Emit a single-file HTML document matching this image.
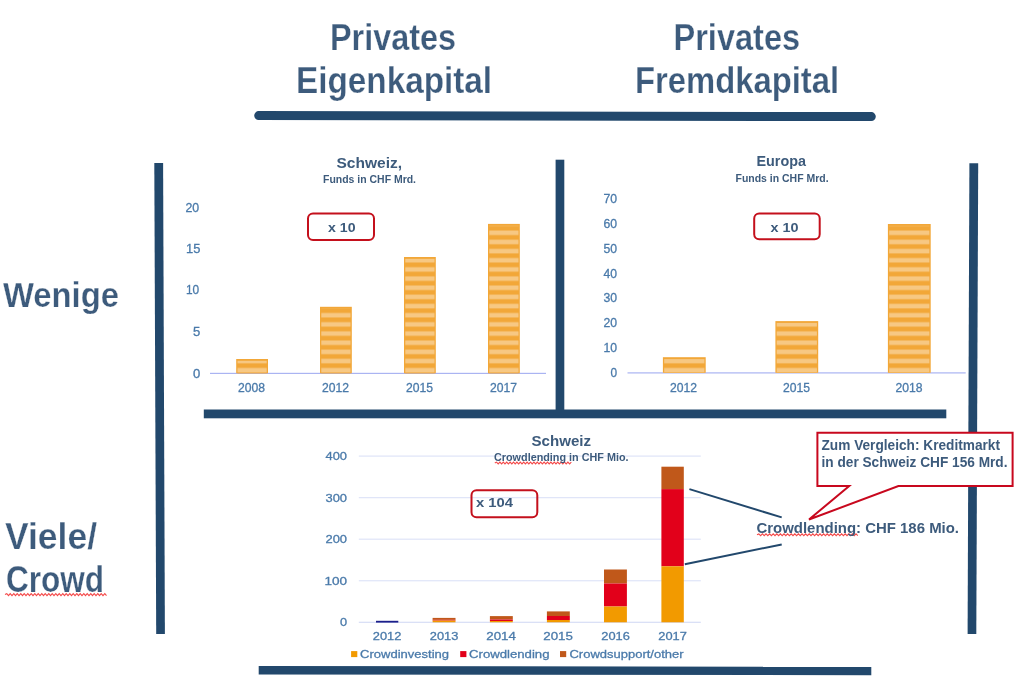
<!DOCTYPE html>
<html><head><meta charset="utf-8"><style>
html,body{margin:0;padding:0;background:#fff;width:1024px;height:681px;overflow:hidden}
svg{display:block;font-family:"Liberation Sans",sans-serif;will-change:transform}
</style></head><body>
<svg width="1024" height="681" viewBox="0 0 1024 681">
<defs>
<pattern id="stripe" patternUnits="userSpaceOnUse" x="0" y="-0.75" width="4" height="9.16">
<rect x="0" y="0" width="4" height="9.16" fill="#f2a738"/>
<rect x="0" y="2.3" width="4" height="4.5" fill="#f7c883"/>
</pattern>
</defs>
<rect width="1024" height="681" fill="#fff"/>
<line x1="258.7" y1="115.6" x2="871.3" y2="116.6" stroke="#22486c" stroke-width="9" stroke-linecap="round"/><polygon points="154.3,163 163.1,163 164.9,634 156.2,634" fill="#22486c"/><polygon points="969.4,163.2 978.2,163.2 976.3,634 967.6,634" fill="#22486c"/><rect x="555.6" y="159.7" width="8.7" height="255" fill="#22486c"/><rect x="203.8" y="409.5" width="742.5" height="8.8" fill="#22486c"/><polygon points="258.7,666 871.3,666.8 871.3,675.2 258.7,674.6" fill="#22486c"/><rect x="210" y="372.8" width="336" height="1.2" fill="#aab4f2"/><rect x="236.2" y="359" width="31.8" height="14.300000000000011" fill="#f2a738"/><rect x="237.5" y="360.8" width="29.2" height="12.50000000000001" fill="url(#stripe)"/><rect x="320" y="306.8" width="31.8" height="66.5" fill="#f2a738"/><rect x="321.3" y="308.6" width="29.2" height="64.7" fill="url(#stripe)"/><rect x="404" y="257" width="31.8" height="116.30000000000001" fill="#f2a738"/><rect x="405.3" y="258.8" width="29.2" height="114.50000000000001" fill="url(#stripe)"/><rect x="488" y="223.9" width="31.8" height="149.4" fill="#f2a738"/><rect x="489.3" y="225.70000000000002" width="29.2" height="147.6" fill="url(#stripe)"/><rect x="627.5" y="372.3" width="338.2" height="1.2" fill="#aab4f2"/><rect x="662.9" y="357.2" width="42.8" height="15.600000000000023" fill="#f2a738"/><rect x="664.1999999999999" y="359.0" width="40.199999999999996" height="13.800000000000022" fill="url(#stripe)"/><rect x="775.4" y="321.1" width="42.8" height="51.69999999999999" fill="#f2a738"/><rect x="776.6999999999999" y="322.90000000000003" width="40.199999999999996" height="49.89999999999999" fill="url(#stripe)"/><rect x="887.9" y="224" width="42.8" height="148.8" fill="#f2a738"/><rect x="889.1999999999999" y="225.8" width="40.199999999999996" height="147.0" fill="url(#stripe)"/><rect x="358.8" y="455.50" width="342" height="1.2" fill="#dfe4f8"/><rect x="358.8" y="497.05" width="342" height="1.2" fill="#dfe4f8"/><rect x="358.8" y="538.60" width="342" height="1.2" fill="#dfe4f8"/><rect x="358.8" y="580.15" width="342" height="1.2" fill="#dfe4f8"/><rect x="358.8" y="621.70" width="342" height="1.2" fill="#d6ddf6"/><rect x="376" y="620.8" width="22.3" height="1.8" fill="#1c1f8a"/><rect x="432.6" y="617.9" width="22.9" height="1.90" fill="#c0581a"/><rect x="432.6" y="619.8" width="22.9" height="0.80" fill="#e2001a"/><rect x="432.6" y="620.6" width="22.9" height="1.70" fill="#f29a00"/><rect x="489.9" y="616.1" width="22.9" height="3.40" fill="#c0581a"/><rect x="489.9" y="619.5" width="22.9" height="1.50" fill="#e2001a"/><rect x="489.9" y="621" width="22.9" height="1.30" fill="#f29a00"/><rect x="546.9" y="611.4" width="22.9" height="4.60" fill="#c0581a"/><rect x="546.9" y="616" width="22.9" height="4.00" fill="#e2001a"/><rect x="546.9" y="620" width="22.9" height="2.30" fill="#f29a00"/><rect x="604" y="569.5" width="22.9" height="14.00" fill="#c0581a"/><rect x="604" y="583.5" width="22.9" height="23.00" fill="#e2001a"/><rect x="604" y="606.5" width="22.9" height="15.80" fill="#f29a00"/><rect x="661.4" y="466.7" width="22.4" height="22.40" fill="#c0581a"/><rect x="661.4" y="489.1" width="22.4" height="77.20" fill="#e2001a"/><rect x="661.4" y="566.3" width="22.4" height="56.00" fill="#f29a00"/><rect x="351.1" y="651.1" width="6.2" height="6" fill="#f29a00"/><rect x="460.2" y="651.1" width="6.2" height="6" fill="#e2001a"/><rect x="560" y="651.1" width="6.2" height="6" fill="#c0581a"/><rect x="308" y="213.5" width="66" height="26.5" rx="5" fill="none" stroke="#c4101c" stroke-width="2"/><rect x="754.2" y="213.4" width="65.5" height="25.8" rx="5" fill="none" stroke="#c4101c" stroke-width="2"/><rect x="471.5" y="490.3" width="65.8" height="27" rx="5" fill="none" stroke="#c4101c" stroke-width="2"/><line x1="689.4" y1="489.1" x2="781.7" y2="517.4" stroke="#22486c" stroke-width="2"/><line x1="684.8" y1="564.2" x2="781.7" y2="544.4" stroke="#22486c" stroke-width="2"/><path d="M817.4 432.7 H1012.6 V486.1 H898.4 L809 519.5 L849.2 486.1 H817.4 Z" fill="#fff" stroke="#c8081e" stroke-width="2" stroke-linejoin="miter"/><path d="M5.0 594.6 L6.8 593.6 L8.5 595.6 L10.2 593.6 L12.0 595.6 L13.8 593.6 L15.5 595.6 L17.2 593.6 L19.0 595.6 L20.8 593.6 L22.5 595.6 L24.2 593.6 L26.0 595.6 L27.8 593.6 L29.5 595.6 L31.2 593.6 L33.0 595.6 L34.8 593.6 L36.5 595.6 L38.2 593.6 L40.0 595.6 L41.8 593.6 L43.5 595.6 L45.2 593.6 L47.0 595.6 L48.8 593.6 L50.5 595.6 L52.2 593.6 L54.0 595.6 L55.8 593.6 L57.5 595.6 L59.2 593.6 L61.0 595.6 L62.8 593.6 L64.5 595.6 L66.2 593.6 L68.0 595.6 L69.8 593.6 L71.5 595.6 L73.2 593.6 L75.0 595.6 L76.8 593.6 L78.5 595.6 L80.2 593.6 L82.0 595.6 L83.8 593.6 L85.5 595.6 L87.2 593.6 L89.0 595.6 L90.8 593.6 L92.5 595.6 L94.2 593.6 L96.0 595.6 L97.8 593.6 L99.5 595.6 L101.2 593.6 L103.0 595.6 L104.8 593.6 L106.5 595.6" fill="none" stroke="#f44a4a" stroke-width="1.1"/><path d="M494.8 463.0 L496.5 462.1 L498.2 463.9 L499.9 462.1 L501.6 463.9 L503.3 462.1 L505.0 463.9 L506.7 462.1 L508.4 463.9 L510.1 462.1 L511.8 463.9 L513.5 462.1 L515.2 463.9 L516.9 462.1 L518.6 463.9 L520.3 462.1 L522.0 463.9 L523.7 462.1 L525.4 463.9 L527.1 462.1 L528.8 463.9 L530.5 462.1 L532.2 463.9 L533.9 462.1 L535.6 463.9 L537.3 462.1 L539.0 463.9 L540.7 462.1 L542.4 463.9 L544.1 462.1 L545.8 463.9 L547.5 462.1 L549.2 463.9 L550.9 462.1 L552.6 463.9 L554.3 462.1 L556.0 463.9 L557.7 462.1 L559.4 463.9 L561.1 462.1 L562.8 463.9 L564.5 462.1 L566.2 463.9 L567.9 462.1 L569.6 463.9 L571.3 462.1" fill="none" stroke="#f44a4a" stroke-width="1.1"/><path d="M757.0 534.8 L758.8 533.9 L760.6 535.7 L762.4 533.9 L764.2 535.7 L766.0 533.9 L767.8 535.7 L769.6 533.9 L771.4 535.7 L773.2 533.9 L775.0 535.7 L776.8 533.9 L778.6 535.7 L780.4 533.9 L782.2 535.7 L784.0 533.9 L785.8 535.7 L787.6 533.9 L789.4 535.7 L791.2 533.9 L793.0 535.7 L794.8 533.9 L796.6 535.7 L798.4 533.9 L800.2 535.7 L802.0 533.9 L803.8 535.7 L805.6 533.9 L807.4 535.7 L809.2 533.9 L811.0 535.7 L812.8 533.9 L814.6 535.7 L816.4 533.9 L818.2 535.7 L820.0 533.9 L821.8 535.7 L823.6 533.9 L825.4 535.7 L827.2 533.9 L829.0 535.7 L830.8 533.9 L832.6 535.7 L834.4 533.9 L836.2 535.7 L838.0 533.9 L839.8 535.7 L841.6 533.9 L843.4 535.7 L845.2 533.9 L847.0 535.7 L848.8 533.9 L850.6 535.7 L852.4 533.9 L854.2 535.7 L856.0 533.9 L857.8 535.7" fill="none" stroke="#f44a4a" stroke-width="1.1"/>
<text x="330.00" y="50" font-weight="bold" font-size="36" fill="#3d5b7c" textLength="126.08" lengthAdjust="spacingAndGlyphs" stroke="#fff" stroke-width="0.25">Privates</text><text x="296.00" y="93" font-weight="bold" font-size="36" fill="#3d5b7c" textLength="196.09" lengthAdjust="spacingAndGlyphs" stroke="#fff" stroke-width="0.25">Eigenkapital</text><text x="673.50" y="49.5" font-weight="bold" font-size="36" fill="#3d5b7c" textLength="126.63" lengthAdjust="spacingAndGlyphs" stroke="#fff" stroke-width="0.25">Privates</text><text x="635.00" y="92.5" font-weight="bold" font-size="36" fill="#3d5b7c" textLength="204.09" lengthAdjust="spacingAndGlyphs" stroke="#fff" stroke-width="0.25">Fremdkapital</text><text x="3.00" y="306.8" font-weight="bold" font-size="35" fill="#3d5b7c" textLength="116.01" lengthAdjust="spacingAndGlyphs" stroke="#fff" stroke-width="0.25">Wenige</text><text x="5.00" y="548.9" font-weight="bold" font-size="36" fill="#3d5b7c" textLength="92.01" lengthAdjust="spacingAndGlyphs" stroke="#fff" stroke-width="0.25">Viele/</text><text x="6.00" y="591.5" font-weight="bold" font-size="36" fill="#3d5b7c" textLength="98.10" lengthAdjust="spacingAndGlyphs" stroke="#fff" stroke-width="0.25">Crowd</text><text x="336.50" y="167.5" font-weight="bold" font-size="15" fill="#3d5b7c" textLength="65.57" lengthAdjust="spacingAndGlyphs">Schweiz,</text><text x="323.00" y="183" font-weight="bold" font-size="11.6" fill="#3d5b7c" textLength="93.03" lengthAdjust="spacingAndGlyphs">Funds in CHF Mrd.</text><text x="328.00" y="232" font-weight="bold" font-size="13.5" fill="#3d5b7c" textLength="27.52" lengthAdjust="spacingAndGlyphs">x 10</text><text x="756.50" y="166.4" font-weight="bold" font-size="15" fill="#3d5b7c" textLength="49.51" lengthAdjust="spacingAndGlyphs">Europa</text><text x="735.50" y="182" font-weight="bold" font-size="11.6" fill="#3d5b7c" textLength="93.04" lengthAdjust="spacingAndGlyphs">Funds in CHF Mrd.</text><text x="770.50" y="231.8" font-weight="bold" font-size="13.5" fill="#3d5b7c" textLength="28.05" lengthAdjust="spacingAndGlyphs">x 10</text><text x="531.50" y="445.8" font-weight="bold" font-size="14.8" fill="#3d5b7c" textLength="59.55" lengthAdjust="spacingAndGlyphs">Schweiz</text><text x="494.00" y="460.9" font-weight="bold" font-size="10.9" fill="#3d5b7c" textLength="134.52" lengthAdjust="spacingAndGlyphs">Crowdlending in CHF Mio.</text><text x="476.00" y="506.9" font-weight="bold" font-size="13.5" fill="#3d5b7c" textLength="37.04" lengthAdjust="spacingAndGlyphs">x 104</text><text x="756.50" y="532.9" font-weight="bold" font-size="15.4" fill="#3d5b7c" textLength="202.51" lengthAdjust="spacingAndGlyphs">Crowdlending: CHF 186 Mio.</text><text x="821.50" y="449.5" font-weight="bold" font-size="14.2" fill="#3d5b7c" textLength="178.50" lengthAdjust="spacingAndGlyphs">Zum Vergleich: Kreditmarkt</text><text x="821.50" y="467" font-weight="bold" font-size="14.2" fill="#3d5b7c" textLength="186.02" lengthAdjust="spacingAndGlyphs">in der Schweiz CHF 156 Mrd.</text><text x="185.50" y="211.5" font-weight="normal" font-size="12.3" fill="#4a7aaa" textLength="13.69" lengthAdjust="spacingAndGlyphs" stroke="#4a7aaa" stroke-width="0.3">20</text><text x="186.00" y="252.9" font-weight="normal" font-size="12.3" fill="#4a7aaa" textLength="14.32" lengthAdjust="spacingAndGlyphs" stroke="#4a7aaa" stroke-width="0.3">15</text><text x="186.00" y="294.4" font-weight="normal" font-size="12.3" fill="#4a7aaa" textLength="13.22" lengthAdjust="spacingAndGlyphs" stroke="#4a7aaa" stroke-width="0.3">10</text><text x="193.00" y="335.8" font-weight="normal" font-size="12.3" fill="#4a7aaa" textLength="7.27" lengthAdjust="spacingAndGlyphs" stroke="#4a7aaa" stroke-width="0.3">5</text><text x="193.00" y="377.8" font-weight="normal" font-size="12.3" fill="#4a7aaa" textLength="7.27" lengthAdjust="spacingAndGlyphs" stroke="#4a7aaa" stroke-width="0.3">0</text><text x="238.00" y="391.7" font-weight="normal" font-size="12.3" fill="#4a7aaa" textLength="27.02" lengthAdjust="spacingAndGlyphs" stroke="#4a7aaa" stroke-width="0.3">2008</text><text x="322.00" y="391.7" font-weight="normal" font-size="12.3" fill="#4a7aaa" textLength="27.02" lengthAdjust="spacingAndGlyphs" stroke="#4a7aaa" stroke-width="0.3">2012</text><text x="406.00" y="391.7" font-weight="normal" font-size="12.3" fill="#4a7aaa" textLength="27.02" lengthAdjust="spacingAndGlyphs" stroke="#4a7aaa" stroke-width="0.3">2015</text><text x="490.00" y="391.7" font-weight="normal" font-size="12.3" fill="#4a7aaa" textLength="27.02" lengthAdjust="spacingAndGlyphs" stroke="#4a7aaa" stroke-width="0.3">2017</text><text x="603.50" y="203.2" font-weight="normal" font-size="12.3" fill="#4a7aaa" textLength="13.59" lengthAdjust="spacingAndGlyphs" stroke="#4a7aaa" stroke-width="0.3">70</text><text x="603.50" y="228.0" font-weight="normal" font-size="12.3" fill="#4a7aaa" textLength="13.59" lengthAdjust="spacingAndGlyphs" stroke="#4a7aaa" stroke-width="0.3">60</text><text x="603.50" y="252.79999999999998" font-weight="normal" font-size="12.3" fill="#4a7aaa" textLength="13.59" lengthAdjust="spacingAndGlyphs" stroke="#4a7aaa" stroke-width="0.3">50</text><text x="603.50" y="277.6" font-weight="normal" font-size="12.3" fill="#4a7aaa" textLength="13.51" lengthAdjust="spacingAndGlyphs" stroke="#4a7aaa" stroke-width="0.3">40</text><text x="603.50" y="302.4" font-weight="normal" font-size="12.3" fill="#4a7aaa" textLength="13.59" lengthAdjust="spacingAndGlyphs" stroke="#4a7aaa" stroke-width="0.3">30</text><text x="603.50" y="327.2" font-weight="normal" font-size="12.3" fill="#4a7aaa" textLength="13.59" lengthAdjust="spacingAndGlyphs" stroke="#4a7aaa" stroke-width="0.3">20</text><text x="603.50" y="352.0" font-weight="normal" font-size="12.3" fill="#4a7aaa" textLength="13.59" lengthAdjust="spacingAndGlyphs" stroke="#4a7aaa" stroke-width="0.3">10</text><text x="610.50" y="376.79999999999995" font-weight="normal" font-size="12.3" fill="#4a7aaa" textLength="6.58" lengthAdjust="spacingAndGlyphs" stroke="#4a7aaa" stroke-width="0.3">0</text><text x="670.00" y="391.7" font-weight="normal" font-size="12.3" fill="#4a7aaa" textLength="27.02" lengthAdjust="spacingAndGlyphs" stroke="#4a7aaa" stroke-width="0.3">2012</text><text x="783.00" y="391.7" font-weight="normal" font-size="12.3" fill="#4a7aaa" textLength="27.02" lengthAdjust="spacingAndGlyphs" stroke="#4a7aaa" stroke-width="0.3">2015</text><text x="895.50" y="391.7" font-weight="normal" font-size="12.3" fill="#4a7aaa" textLength="27.06" lengthAdjust="spacingAndGlyphs" stroke="#4a7aaa" stroke-width="0.3">2018</text><text x="325.50" y="460.1" font-weight="normal" font-size="11.5" fill="#4a7aaa" textLength="21.50" lengthAdjust="spacingAndGlyphs" stroke="#4a7aaa" stroke-width="0.3">400</text><text x="325.50" y="501.65000000000003" font-weight="normal" font-size="11.5" fill="#4a7aaa" textLength="21.55" lengthAdjust="spacingAndGlyphs" stroke="#4a7aaa" stroke-width="0.3">300</text><text x="325.50" y="543.2" font-weight="normal" font-size="11.5" fill="#4a7aaa" textLength="21.55" lengthAdjust="spacingAndGlyphs" stroke="#4a7aaa" stroke-width="0.3">200</text><text x="324.50" y="584.75" font-weight="normal" font-size="11.5" fill="#4a7aaa" textLength="22.58" lengthAdjust="spacingAndGlyphs" stroke="#4a7aaa" stroke-width="0.3">100</text><text x="340.00" y="626.3" font-weight="normal" font-size="11.5" fill="#4a7aaa" textLength="7.10" lengthAdjust="spacingAndGlyphs" stroke="#4a7aaa" stroke-width="0.3">0</text><text x="372.75" y="639.7" font-weight="normal" font-size="11.5" fill="#4a7aaa" textLength="28.54" lengthAdjust="spacingAndGlyphs" stroke="#4a7aaa" stroke-width="0.3">2012</text><text x="429.75" y="639.7" font-weight="normal" font-size="11.5" fill="#4a7aaa" textLength="28.54" lengthAdjust="spacingAndGlyphs" stroke="#4a7aaa" stroke-width="0.3">2013</text><text x="486.25" y="639.7" font-weight="normal" font-size="11.5" fill="#4a7aaa" textLength="29.60" lengthAdjust="spacingAndGlyphs" stroke="#4a7aaa" stroke-width="0.3">2014</text><text x="543.25" y="639.7" font-weight="normal" font-size="11.5" fill="#4a7aaa" textLength="29.60" lengthAdjust="spacingAndGlyphs" stroke="#4a7aaa" stroke-width="0.3">2015</text><text x="601.25" y="639.7" font-weight="normal" font-size="11.5" fill="#4a7aaa" textLength="28.54" lengthAdjust="spacingAndGlyphs" stroke="#4a7aaa" stroke-width="0.3">2016</text><text x="658.25" y="639.7" font-weight="normal" font-size="11.5" fill="#4a7aaa" textLength="28.54" lengthAdjust="spacingAndGlyphs" stroke="#4a7aaa" stroke-width="0.3">2017</text><text x="360.00" y="657.9" font-weight="normal" font-size="11.5" fill="#4a7aaa" textLength="89.03" lengthAdjust="spacingAndGlyphs" stroke="#4a7aaa" stroke-width="0.3">Crowdinvesting</text><text x="469.00" y="657.9" font-weight="normal" font-size="11.5" fill="#4a7aaa" textLength="80.53" lengthAdjust="spacingAndGlyphs" stroke="#4a7aaa" stroke-width="0.3">Crowdlending</text><text x="569.50" y="657.9" font-weight="normal" font-size="11.5" fill="#4a7aaa" textLength="114.01" lengthAdjust="spacingAndGlyphs" stroke="#4a7aaa" stroke-width="0.3">Crowdsupport/other</text>
</svg>
</body></html>
